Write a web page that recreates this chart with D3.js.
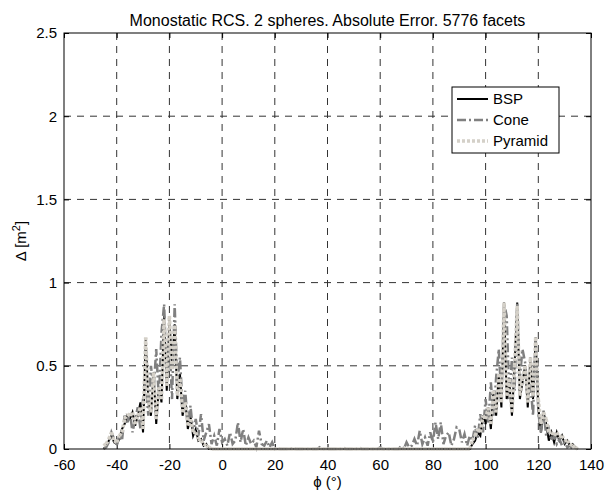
<!DOCTYPE html>
<html>
<head>
<meta charset="utf-8">
<script src="https://cdn.jsdelivr.net/npm/d3@7"></script>
<style>
  body { margin: 0; background: #fff; }
  text { font-family: "Liberation Sans", Arial, sans-serif; }
</style>
</head>
<body>
<svg id="chart" width="605" height="493"></svg>
<script>
// angles (deg) and errors
const phi = [
  -45,-44,-43,-42,-41,-40,-39,-38,-37,-36,-35,-34,-33,-32,-31,-30,-29,-28,-27,-26,
  -25,-24,-23,-22,-21,-20,-19,-18,-17,-16,-15,-14,-13,-12,-11,-10,-9,-8,-7,-6,
  -5,-4,-3,-2,-1,0,1,2,3,4,5,6,7,8,9,10,11,12,13,14,15,16,17,18,19,20,21,22,23,24,
  25,26,27,28,29,30,31,32,33,34,35,36,37,38,39,40,41,42,43,44,45,46,47,48,49,50,51,52,53,54,
  55,56,57,58,59,60,61,62,63,64,65,66,67,68,69,70,71,72,73,74,75,76,77,78,79,80,81,82,83,84,
  85,86,87,88,89,90,91,92,93,94,95,96,97,98,99,100,101,102,103,104,105,106,107,108,109,110,
  111,112,113,114,115,116,117,118,119,120,121,122,123,124,125,126,127,128,129,130,131,132,133,134,135
];

const bsp = [
  0, 0.02, 0.05, 0.08, 0.04, 0.03, 0.06, 0.12, 0.15, 0.2,
  0.18, 0.22, 0.14, 0.2, 0.28, 0.1, 0.66, 0.3, 0.2, 0.46,
  0.15, 0.37, 0.28, 0.8, 0.35, 0.78, 0.5, 0.75, 0.3, 0.45,
  0.2, 0.3, 0.12, 0.2, 0.08, 0.12, 0.05, 0.06, 0.02, 0.03,
  0, 0, 0, 0, 0, 0, 0, 0, 0, 0,
  0, 0, 0, 0, 0, 0, 0, 0, 0, 0,
  0, 0, 0, 0, 0, 0, 0, 0, 0, 0,
  0, 0, 0, 0, 0, 0, 0, 0, 0, 0,
  0, 0, 0, 0, 0, 0, 0, 0, 0, 0,
  0, 0, 0, 0, 0, 0, 0, 0, 0, 0,
  0, 0, 0, 0, 0, 0, 0, 0, 0, 0,
  0, 0, 0, 0, 0, 0, 0, 0, 0, 0,
  0, 0, 0, 0, 0, 0, 0, 0, 0, 0,
  0, 0, 0, 0, 0, 0, 0, 0, 0, 0,
  0.03, 0.05, 0.1, 0.08, 0.2, 0.15, 0.25, 0.12, 0.35, 0.2,
  0.45, 0.25, 0.88, 0.3, 0.4, 0.2, 0.5, 0.88, 0.3, 0.4,
  0.5, 0.25, 0.55, 0.3, 0.67, 0.25, 0.1, 0.22, 0.15, 0.05,
  0.1, 0.04, 0.1, 0.05, 0.08, 0.03, 0.05, 0.02, 0.03, 0.01, 0
];

const cone = [
  0, 0.01, 0.04, 0.1, 0.06, 0.02, 0.08, 0.05, 0.2, 0.15,
  0.22, 0.1, 0.18, 0.25, 0.12, 0.3, 0.4, 0.2, 0.5, 0.35,
  0.6, 0.3, 0.7, 0.87, 0.4, 0.65, 0.3, 0.87, 0.4, 0.55,
  0.25, 0.35, 0.15, 0.26, 0.1, 0.18, 0.08, 0.21, 0.05, 0.1,
  0.15, 0.03, 0.08, 0.02, 0.12, 0.04, 0.06, 0.02, 0.1, 0.03,
  0.05, 0.16, 0.04, 0.12, 0.02, 0.07, 0.03, 0.05, 0.01, 0.11,
  0.03, 0.02, 0.05, 0.01, 0.04, 0, 0.01, 0, 0, 0,
  0, 0, 0.01, 0, 0, 0, 0, 0, 0, 0,
  0, 0, 0.01, 0, 0, 0, 0, 0, 0, 0,
  0, 0.01, 0, 0, 0, 0, 0, 0.01, 0, 0,
  0, 0, 0, 0, 0, 0.01, 0, 0, 0, 0,
  0, 0, 0, 0.02, 0, 0.04, 0.01, 0.02, 0.06, 0.02,
  0.11, 0.03, 0.07, 0.02, 0.1, 0.04, 0.16, 0.06, 0.16, 0.03,
  0.08, 0.1, 0.02, 0.06, 0.13, 0.12, 0.04, 0.09, 0.02, 0.08,
  0.05, 0.14, 0.06, 0.21, 0.1, 0.3, 0.15, 0.4, 0.2, 0.43,
  0.6, 0.3, 0.88, 0.8, 0.3, 0.55, 0.35, 0.88, 0.43, 0.6,
  0.52, 0.3, 0.4, 0.2, 0.67, 0.22, 0.1, 0.23, 0.08, 0.12,
  0.05, 0.08, 0.03, 0.06, 0.02, 0.04, 0.01, 0.02, 0, 0.01, 0
];

const pyramid = [
  0.02, 0.03, 0.06, 0.1, 0.05, 0.04, 0.08, 0.1, 0.18, 0.21,
  0.2, 0.22, 0.15, 0.2, 0.25, 0.12, 0.67, 0.28, 0.22, 0.46,
  0.18, 0.37, 0.3, 0.78, 0.38, 0.8, 0.48, 0.74, 0.32, 0.42,
  0.22, 0.28, 0.14, 0.18, 0.1, 0.1, 0.06, 0.05, 0.03, 0.02,
  0.01, 0, 0, 0, 0, 0, 0, 0, 0, 0,
  0, 0, 0, 0, 0, 0, 0, 0, 0, 0,
  0, 0, 0, 0, 0, 0, 0, 0, 0, 0,
  0, 0, 0, 0, 0, 0, 0, 0, 0, 0,
  0, 0, 0, 0, 0, 0, 0, 0, 0, 0,
  0, 0, 0, 0, 0, 0, 0, 0, 0, 0,
  0, 0, 0, 0, 0, 0, 0, 0, 0, 0,
  0, 0, 0, 0, 0, 0, 0, 0, 0, 0,
  0, 0, 0, 0, 0, 0, 0, 0, 0, 0,
  0, 0, 0, 0, 0, 0, 0, 0, 0, 0,
  0.05, 0.08, 0.12, 0.1, 0.2, 0.18, 0.25, 0.15, 0.35, 0.22,
  0.45, 0.28, 0.88, 0.32, 0.42, 0.22, 0.5, 0.86, 0.32, 0.42,
  0.5, 0.28, 0.55, 0.32, 0.67, 0.3, 0.15, 0.22, 0.18, 0.1,
  0.1, 0.08, 0.1, 0.07, 0.08, 0.05, 0.05, 0.03, 0.02, 0.01, 0
];

const xTicks = [-60, -40, -20, 0, 20, 40, 60, 80, 100, 120, 140];
const yTicks = [0, 0.5, 1, 1.5, 2, 2.5];
const seriesNames = ["BSP", "Cone", "Pyramid"];

const svg = d3.select("#chart");
svg.append("rect").attr("width", 605).attr("height", 493).attr("fill", "#fff");

const mLeft = 64, mRight = 591, mTop = 33, mBottom = 449;
const x = d3.scaleLinear().domain([-60, 140]).range([mLeft, mRight]);
const y = d3.scaleLinear().domain([0, 2.5]).range([mBottom, mTop]);

// grid
const grid = svg.append("g").attr("stroke", "#333").attr("stroke-width", 1)
  .attr("stroke-dasharray", "7,6").attr("fill", "none");
xTicks.slice(1, -1).forEach(t => {
  grid.append("line").attr("x1", x(t)).attr("x2", x(t)).attr("y1", mTop).attr("y2", mBottom);
});
yTicks.slice(1, -1).forEach(t => {
  grid.append("line").attr("x1", mLeft).attr("x2", mRight).attr("y1", y(t)).attr("y2", y(t));
});

// axes, ticks pointing inwards like matlab
const xAxis = svg.append("g").attr("transform", `translate(0,${mBottom})`)
  .call(d3.axisBottom(x).tickValues(xTicks).tickSize(-5).tickPadding(10).tickFormat(d3.format("d")));
const yAxis = svg.append("g").attr("transform", `translate(${mLeft},0)`)
  .call(d3.axisLeft(y).tickValues(yTicks).tickSize(-5).tickPadding(7).tickFormat(d => d));
svg.append("g").attr("transform", `translate(0,${mTop})`)
  .call(d3.axisTop(x).tickValues(xTicks).tickSize(-5).tickFormat(""));
svg.append("g").attr("transform", `translate(${mRight},0)`)
  .call(d3.axisRight(y).tickValues(yTicks).tickSize(-5).tickFormat(""));

svg.selectAll(".domain").remove();
svg.selectAll(".tick line").attr("stroke", "#000");
[xAxis, yAxis].forEach(a => a.selectAll("text")
  .attr("font-size", 15).attr("fill", "#000")
  .attr("font-family", "'Liberation Sans', Arial, sans-serif"));
xAxis.selectAll("text").text(d => d < 0 ? "-" + Math.abs(d) : d);

// lines
const pts = arr => phi.map((p, i) => [x(p), y(arr[i])]);
const line = d3.line();
const plot = svg.append("g");

plot.append("path").attr("d", line(pts(bsp)))
  .attr("fill", "none").attr("stroke", "#000").attr("stroke-width", 2);

plot.append("path").attr("d", line(pts(cone)))
  .attr("fill", "none").attr("stroke", "#808080").attr("stroke-width", 2.5)
  .attr("stroke-dasharray", "9,3,2,3");

// dotted pattern restarts per segment (as in the exported figure)
plot.selectAll(".pyr").data(d3.pairs(pts(pyramid))).join("line")
  .attr("x1", d => d[0][0]).attr("y1", d => d[0][1])
  .attr("x2", d => d[1][0]).attr("y2", d => d[1][1])
  .attr("stroke", "#d4d0c8").attr("stroke-width", 3.5)
  .attr("stroke-dasharray", "3,2");

// box
svg.append("rect").attr("x", mLeft).attr("y", mTop)
  .attr("width", mRight - mLeft).attr("height", mBottom - mTop)
  .attr("fill", "none").attr("stroke", "#000").attr("stroke-width", 1);

// legend
const lg = svg.append("g");
const lgX = 452, lgY = 87, lgW = 107, lgH = 66;
lg.append("rect").attr("x", lgX).attr("y", lgY).attr("width", lgW).attr("height", lgH)
  .attr("fill", "#fff").attr("stroke", "#000");
const lgStyles = [
  { stroke: "#000", width: 2, dash: null },
  { stroke: "#808080", width: 2.5, dash: "9,3,2,3" },
  { stroke: "#d4d0c8", width: 3.5, dash: "3,2" }
];
seriesNames.forEach((name, i) => {
  const cy = lgY + 12 + i * 21;
  lg.append("line").attr("x1", lgX + 5).attr("x2", lgX + 36).attr("y1", cy).attr("y2", cy)
    .attr("stroke", lgStyles[i].stroke).attr("stroke-width", lgStyles[i].width)
    .attr("stroke-dasharray", lgStyles[i].dash);
  lg.append("text").attr("x", lgX + 41).attr("y", cy).attr("dy", "0.35em")
    .attr("font-size", 15).text(name);
});

// titles
svg.append("text").attr("x", (mLeft + mRight) / 2).attr("y", 26)
  .attr("text-anchor", "middle").attr("font-size", 16)
  .text("Monostatic RCS. 2 spheres. Absolute Error. 5776 facets");

svg.append("text").attr("x", (mLeft + mRight) / 2).attr("y", 487)
  .attr("text-anchor", "middle").attr("font-size", 15)
  .text("\u03D5 (\u00B0)");

const yl = svg.append("text").attr("transform", `translate(26,${(mTop + mBottom) / 2}) rotate(-90)`)
  .attr("text-anchor", "middle").attr("font-size", 15);
yl.append("tspan").text("\u0394 [m");
yl.append("tspan").attr("baseline-shift", "super").attr("font-size", 11).text("2");
yl.append("tspan").text("]");
</script>
</body>
</html>
